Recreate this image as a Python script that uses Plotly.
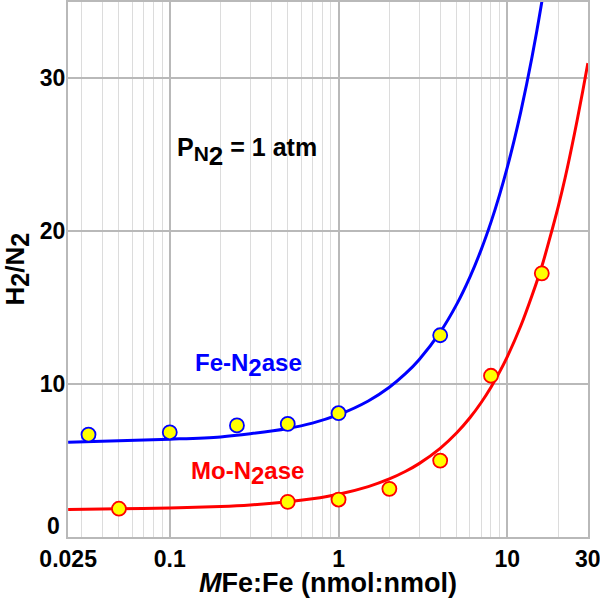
"""H2/N2 ratio vs MFe:Fe — Fe- and Mo-nitrogenase"""
import math
import plotly.graph_objects as go

# measured points
FE_X = [0.033, 0.1, 0.25, 0.5, 1, 4]
FE_Y = [6.7, 6.85, 7.3, 7.4, 8.1, 13.2]
MO_X = [0.05, 0.5, 1, 2, 4, 8, 16]
MO_Y = [1.85, 2.3, 2.45, 3.15, 5.0, 10.55, 17.25]

# fitted curves
FE_FIT_X = [0.025, 0.05, 0.1, 0.2, 0.3, 0.5, 0.7, 1, 1.5, 2, 2.5, 3, 4, 5, 6, 7, 8, 9,
            10, 11, 12, 13, 14, 15, 16, 16.5]
FE_FIT_Y = [6.2, 6.3, 6.4, 6.55, 6.75, 7.1, 7.45, 8.0, 8.9, 9.8, 10.7, 11.6, 13.4, 15.2,
            17.0, 18.8, 20.6, 22.4, 24.2, 26.0, 27.8, 29.6, 31.4, 33.2, 35.0, 35.9]
MO_FIT_X = [0.025, 0.05, 0.1, 0.2, 0.3, 0.5, 0.7, 1, 1.5, 2, 2.5, 3, 4, 5, 6, 7, 8, 9,
            10, 12, 14, 16, 18, 20, 22, 25, 28, 30]
MO_FIT_Y = [1.8, 1.85, 1.9, 2.0, 2.1, 2.3, 2.5, 2.8, 3.3, 3.8, 4.3, 4.8, 5.8, 6.8, 7.8,
            8.8, 9.8, 10.8, 11.8, 13.8, 15.8, 17.7, 19.7, 21.6, 23.5, 26.4, 29.2, 31.0]

X_TICKS = [0.025, 0.1, 1, 10, 30]
X_TICK_TEXT = ["0.025", "0.1", "1", "10", "30"]
X_MINOR = [0.03, 0.04, 0.05, 0.06, 0.07, 0.08, 0.09,
           0.2, 0.3, 0.4, 0.5, 0.6, 0.7, 0.8, 0.9,
           2, 3, 4, 5, 6, 7, 8, 9, 20]
Y_TICKS = [0, 10, 20, 30]

FONT = "Liberation Sans, Arial, sans-serif"
BLUE = "#0000ff"
RED = "#ff0000"
YELLOW = "#ffff00"
GRID = "#b9b9b9"
GRID_MINOR = "#dcdcdc"


def sub(t, size):
    # full-size subscript, like the reference
    return f"<sub><span style='font-size:{size}px'>{t}</span></sub>"


fig = go.Figure()
fig.add_trace(go.Scatter(
    x=FE_FIT_X, y=FE_FIT_Y, mode="lines",
    line=dict(color=BLUE, width=3, shape="spline", smoothing=1),
    hoverinfo="skip",
))
fig.add_trace(go.Scatter(
    x=MO_FIT_X, y=MO_FIT_Y, mode="lines",
    line=dict(color=RED, width=3, shape="spline", smoothing=1),
    hoverinfo="skip",
))
fig.add_trace(go.Scatter(
    x=FE_X, y=FE_Y, mode="markers", name="Fe-N2ase",
    marker=dict(color=YELLOW, size=14, line=dict(color=BLUE, width=1.8)),
))
fig.add_trace(go.Scatter(
    x=MO_X, y=MO_Y, mode="markers", name="Mo-N2ase",
    marker=dict(color=YELLOW, size=14, line=dict(color=RED, width=1.8)),
))

fig.add_annotation(
    text=("<b>P<sub><span style='font-size:21px'>N</span>"
          "<sub><span style='font-size:26px'>2</span></sub></sub> = 1 atm</b>"),
    xref="paper", yref="paper", x=0.344, y=0.759,
    showarrow=False, font=dict(family=FONT, size=25, color="black"),
)
fig.add_annotation(
    text=f"<b>Fe-N{sub('2', 24)}ase</b>",
    xref="paper", yref="paper", x=0.348, y=0.287,
    showarrow=False, font=dict(family=FONT, size=24, color=BLUE),
)
fig.add_annotation(
    text=f"<b>Mo-N{sub('2', 24)}ase</b>",
    xref="paper", yref="paper", x=0.346, y=0.086,
    showarrow=False, font=dict(family=FONT, size=24, color=RED),
)
# axis titles as annotations for tighter placement
fig.add_annotation(
    text=f"<b>H{sub('2', 25)}/N{sub('2', 25)}</b>",
    xref="paper", yref="paper", x=-0.1, y=0.5,
    xanchor="center", yanchor="middle", textangle=-90,
    showarrow=False, font=dict(family=FONT, size=26, color="black"),
)
fig.add_annotation(
    text="<b><i>M</i>Fe:Fe (nmol:nmol)</b>",
    xref="paper", yref="paper", x=0.5, y=-0.086,
    xanchor="center", yanchor="middle",
    showarrow=False, font=dict(family=FONT, size=27, color="black"),
)
# the "0" label sits a little above the bottom edge in the original
fig.add_annotation(
    text=f"<b>{Y_TICKS[0]}</b>",
    xref="paper", yref="y", x=0, y=Y_TICKS[0],
    xanchor="right", yanchor="middle", xshift=-6, yshift=11,
    showarrow=False, font=dict(family=FONT, size=23, color="black"),
)

fig.update_layout(
    width=600, height=601,
    margin=dict(l=68, r=12, t=2, b=64, autoexpand=False),
    paper_bgcolor="white", plot_bgcolor="white",
    showlegend=False,
    font=dict(family=FONT, size=23, color="black"),
    xaxis=dict(
        type="log", range=[math.log10(0.02495), math.log10(30.05)],
        tickmode="array", tickvals=X_TICKS, ticktext=[f"<b>{t}</b>" for t in X_TICK_TEXT],
        showgrid=True, gridcolor=GRID, gridwidth=2,
        minor=dict(tickmode="array", tickvals=X_MINOR, showgrid=True,
                   gridcolor=GRID_MINOR, gridwidth=1, ticks=""),
        showline=True, linecolor=GRID, linewidth=2, mirror=True,
        ticks="", ticklabelstandoff=0, automargin=False,
        ticklabeloverflow="allow",
        zeroline=False,
    ),
    yaxis=dict(
        range=[0, 35],
        tickmode="array", tickvals=Y_TICKS,
        ticktext=[""] + [f"<b>{t}</b>" for t in Y_TICKS[1:]],
        showgrid=True, gridcolor=GRID, gridwidth=2,
        showline=True, linecolor=GRID, linewidth=2, mirror=True,
        ticks="", ticklabelstandoff=-4, automargin=False,
        zeroline=False,
    ),
)

# drop the default page margin so the figure sits at the window's corner
fig.write_html("out.html", config={"displayModeBar": False},
               post_script="document.body.style.margin='0';")
